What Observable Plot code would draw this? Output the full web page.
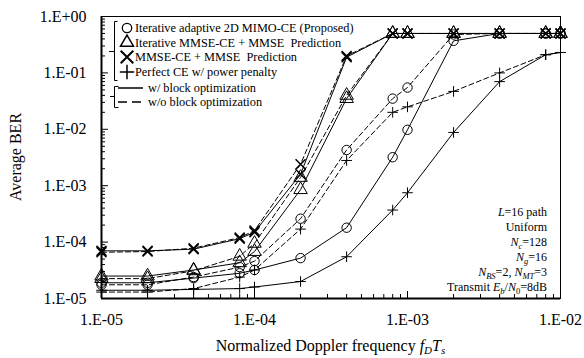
<!DOCTYPE html>
<html><head><meta charset="utf-8">
<script src="https://cdn.jsdelivr.net/npm/d3@7"></script>
<script src="https://cdn.jsdelivr.net/npm/@observablehq/plot@0.6"></script>
<style>body{margin:0;background:#fff} svg{display:block}</style>
</head><body><div id="chart"></div>
<script>
// Normalized Doppler frequency fD*Ts
const fdTs = [1e-5, 2e-5, 4e-5, 8e-5, 1e-4, 2e-4, 4e-4, 8e-4, 1e-3, 2e-3, 4e-3, 8e-3, 1e-2];
// Average BER values
const proposedW   = [1.9e-5, 1.9e-5, 2.3e-5, 2.8e-5, 3.2e-5, 5.2e-5, 1.8e-4, 3.2e-3, 9.8e-3, 0.37, 0.5, 0.5, 0.5];
const proposedWo  = [1.75e-5, 1.75e-5, 2.4e-5, 3.6e-5, 4.6e-5, 2.6e-4, 4.3e-3, 3.5e-2, 5.5e-2, 0.48, 0.5, 0.5, 0.5];
const iterMmseW   = [2.5e-5, 2.5e-5, 3.2e-5, 4.3e-5, 6.8e-5, 8.5e-4, 3.5e-2, 0.5, 0.5, 0.5, 0.5, 0.5, 0.5];
const iterMmseWo  = [2.25e-5, 2.25e-5, 3.1e-5, 5.6e-5, 9.5e-5, 1.4e-3, 4.0e-2, 0.5, 0.5, 0.5, 0.5, 0.5, 0.5];
const mmseW       = [7.0e-5, 7.0e-5, 7.5e-5, 1.15e-4, 1.5e-4, 1.6e-3, 0.19, 0.5, 0.5, 0.5, 0.5, 0.5, 0.5];
const mmseWo      = [6.6e-5, 6.8e-5, 7.8e-5, 1.2e-4, 1.6e-4, 2.4e-3, 0.20, 0.5, 0.5, 0.5, 0.5, 0.5, 0.5];
const perfectW    = [1.4e-5, 1.4e-5, 1.45e-5, 1.5e-5, 1.6e-5, 2.0e-5, 5.5e-5, 3.7e-4, 7.5e-4, 8.8e-3, 7.0e-2, 0.21, 0.23];
const perfectWo   = [1.3e-5, 1.3e-5, 1.5e-5, 2.4e-5, 3.2e-5, 1.7e-4, 2.8e-3, 2.0e-2, 2.5e-2, 4.7e-2, 0.10, 0.21, 0.23];

const methods = ["Iterative adaptive 2D MIMO-CE (Proposed)", "Iterative MMSE-CE + MMSE  Prediction", "MMSE-CE + MMSE  Prediction", "Perfect CE w/ power penalty"];
const styles = ["w/ block optimization", "w/o block optimization"];
const xTicks = [1e-5, 1e-4, 1e-3, 1e-2];
const yTicks = [1e-5, 1e-4, 1e-3, 1e-2, 1e-1, 1];

const seriesDefs = [
  [methods[0], styles[0], proposedW], [methods[0], styles[1], proposedWo],
  [methods[1], styles[0], iterMmseW], [methods[1], styles[1], iterMmseWo],
  [methods[2], styles[0], mmseW], [methods[2], styles[1], mmseWo],
  [methods[3], styles[0], perfectW], [methods[3], styles[1], perfectWo]
];
const rows = seriesDefs.flatMap(([method, style, vals]) => vals.map((v, i) => ({fd: fdTs[i], ber: v, method, style, key: method + "|" + style})));

const fmt = d => { const e = Math.round(Math.log10(d)); return "1.E" + (e < 0 ? "-" : "+") + String(Math.abs(e)).padStart(2, "0"); };
const minorOf = (lo, hi) => { const out = []; for (let k = lo; k < hi; k++) for (let m = 2; m <= 9; m++) out.push(m * Math.pow(10, k)); return out; };
const xMinor = minorOf(-5, -2);
const yMinor = minorOf(-5, 0);

const W = 584, H = 358, mL = 101, mR = 24, mT = 16, mB = 60;
const fw = W - mL - mR, fh = H - mT - mB;
const font = "'Liberation Serif', 'Times New Roman', serif";

const dotOpts = {
  [methods[0]]: {symbol: "circle", r: 4.7, strokeWidth: 1},
  [methods[1]]: {symbol: "triangle", r: 5, strokeWidth: 1},
  [methods[2]]: {symbol: "times", r: 4.6, strokeWidth: 1.5},
  [methods[3]]: {symbol: "plus", r: 3.5, strokeWidth: 1}
};

const svg = Plot.plot({
  width: W, height: H, marginLeft: mL, marginRight: mR, marginTop: mT, marginBottom: mB,
  style: {fontFamily: font, fontSize: "16px", background: "#fff", color: "#000"},
  x: {type: "log", domain: [xTicks[0], xTicks[xTicks.length - 1]]},
  y: {type: "log", domain: [yTicks[0], yTicks[yTicks.length - 1]]},
  marks: [
    Plot.frame({stroke: "#000", strokeWidth: 1}),
    Plot.axisX({ticks: xTicks, tickFormat: fmt, tickSize: 0, tickPadding: 15, fontSize: 16, fontFamily: font, label: null}),
    Plot.axisY({ticks: yTicks, tickFormat: fmt, tickSize: 0, tickPadding: 15, fontSize: 16, fontFamily: font, label: null}),
    Plot.tickX(xMinor, {x: d => d, insetTop: fh - 4, stroke: "#000"}),
    Plot.tickX(xTicks, {x: d => d, insetTop: fh - 7, stroke: "#000"}),
    Plot.tickY(yMinor, {y: d => d, insetRight: fw - 4, stroke: "#000"}),
    Plot.tickY(yTicks, {y: d => d, insetRight: fw - 7, stroke: "#000"}),
    Plot.line(rows.filter(d => d.style === styles[0]), {x: "fd", y: "ber", z: "key", stroke: "#000", strokeWidth: 1}),
    Plot.line(rows.filter(d => d.style === styles[1]), {x: "fd", y: "ber", z: "key", stroke: "#000", strokeWidth: 1, strokeDasharray: "5,3"}),
    ...methods.map(m => Plot.dot(rows.filter(d => d.method === m), {x: "fd", y: "ber", stroke: "#000", fill: "none", ...dotOpts[m]})),
    Plot.ruleX([xTicks[0]], {stroke: "#000", strokeWidth: 2}),
    Plot.ruleY([yTicks[0]], {stroke: "#000", strokeWidth: 2})
  ]
});
document.getElementById("chart").appendChild(svg);

const s = d3.select(svg);

// Axis titles
const xl = s.append("text").attr("x", mL + fw / 2).attr("y", 351).attr("text-anchor", "middle")
  .attr("font-family", font).attr("font-size", 16).attr("fill", "#000");
xl.append("tspan").text("Normalized Doppler frequency ");
xl.append("tspan").attr("font-style", "italic").text("f");
xl.append("tspan").attr("font-style", "italic").attr("font-size", 11).attr("dy", 3).text("D");
xl.append("tspan").attr("font-style", "italic").attr("dy", -3).text("T");
xl.append("tspan").attr("font-style", "italic").attr("font-size", 11).attr("dy", 3).text("s");

s.append("text").attr("transform", `translate(21,${mT + fh / 2}) rotate(-90)`).attr("text-anchor", "middle")
  .attr("font-family", font).attr("font-size", 16).attr("fill", "#000").text("Average BER");

// Legend
const lg = s.append("g").attr("font-family", font).attr("font-size", 12.3).attr("fill", "#000").attr("text-anchor", "start");
lg.append("path").attr("d", "M117.5,21.5H114.5V80.5H117.5M114.5,51.5H109").attr("fill", "none").attr("stroke", "#000");
lg.append("path").attr("d", "M118.5,86.5H114.5V107.5H118.5M114.5,96.5H110").attr("fill", "none").attr("stroke", "#000");
const rowY = [28, 42.5, 57, 72, 88, 102];
const symMap = {circle: d3.symbolCircle, triangle: d3.symbolTriangle2, times: d3.symbolTimes, plus: d3.symbolPlus};
methods.forEach((m, i) => {
  const o = dotOpts[m];
  if (o.symbol === "circle") {
    lg.append("circle").attr("cx", 127).attr("cy", rowY[i]).attr("r", o.r).attr("fill", "none").attr("stroke", "#000").attr("stroke-width", 1.3);
  } else {
    lg.append("path").attr("transform", `translate(127,${rowY[i]})`).attr("d", d3.symbol(symMap[o.symbol], Math.PI * (o.r + 1.2) * (o.r + 1.2))())
      .attr("fill", "none").attr("stroke", "#000").attr("stroke-width", o.strokeWidth + 0.5);
  }
  lg.append("text").attr("x", 135).attr("y", rowY[i]).attr("dy", "0.35em").attr("text-anchor", "start").text(m);
});
styles.forEach((st, i) => {
  const y = rowY[4 + i];
  lg.append("line").attr("x1", 118).attr("x2", 143).attr("y1", y).attr("y2", y).attr("stroke", "#000").attr("stroke-width", 1.5)
    .attr("stroke-dasharray", i === 0 ? null : "9,5");
  lg.append("text").attr("x", 148).attr("y", y).attr("dy", "0.35em").attr("text-anchor", "start").text(st);
});

// Parameter annotation (right-aligned)
const params = [
  [["L", "i"], ["=16 path", ""]],
  [["Uniform", ""]],
  [["N", "i"], ["c", "si"], ["=128", ""]],
  [["N", "i"], ["g", "si"], ["=16", ""]],
  [["N", "i"], ["BS", "si"], ["=2, ", ""], ["N", "i"], ["MT", "si"], ["=3", ""]],
  [["Transmit ", ""], ["E", "i"], ["b", "si"], ["/", ""], ["N", "i"], ["0", "s"], ["=8dB", ""]]
];
params.forEach((parts, i) => {
  const t = s.append("text").attr("x", 547).attr("y", 216 + 15 * i).attr("text-anchor", "end")
    .attr("font-family", font).attr("font-size", 12).attr("fill", "#000");
  let sub = false;
  parts.forEach(([txt, st]) => {
    const sp = t.append("tspan").text(txt);
    const isSub = st.includes("s");
    if (st.includes("i")) sp.attr("font-style", "italic");
    if (isSub) sp.attr("font-size", 8.5);
    if (isSub && !sub) sp.attr("dy", 2.5);
    if (!isSub && sub) sp.attr("dy", -2.5);
    sub = isSub;
  });
});
</script></body></html>
